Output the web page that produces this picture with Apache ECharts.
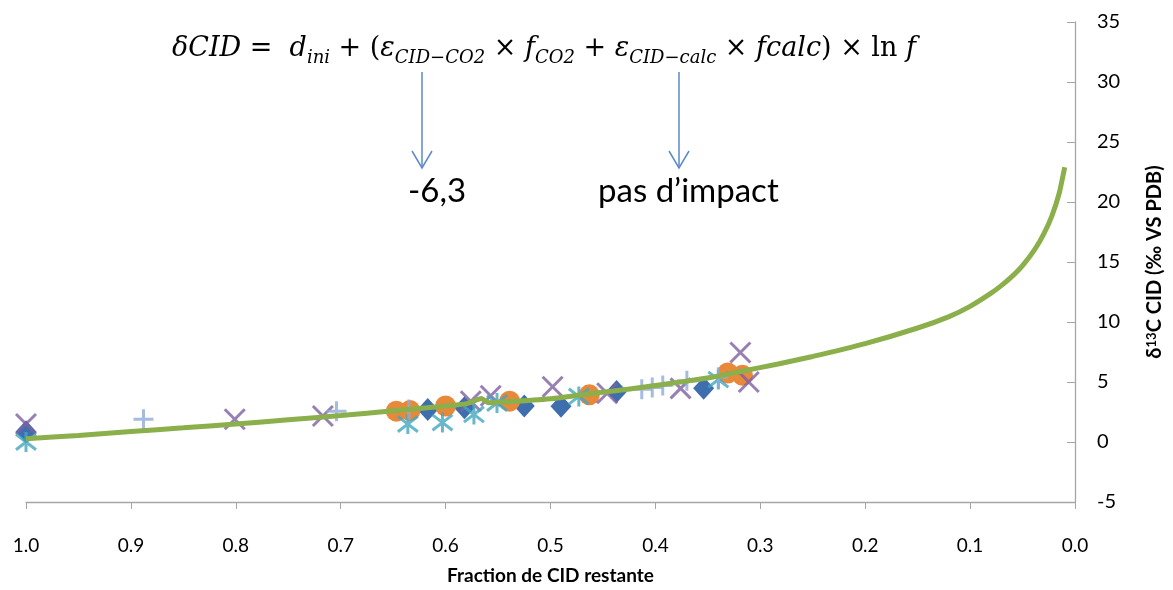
<!DOCTYPE html>
<html>
<head>
<meta charset="utf-8">
<script src="https://cdn.jsdelivr.net/npm/echarts@6/dist/echarts.min.js"></script>
<style>
html,body{margin:0;padding:0;background:#fff;}
#chart{width:1173px;height:590px;}
</style>
</head>
<body>
<div id="chart"></div>
<script>
// Model curve
const curveF = [1.0, 0.95, 0.9, 0.85, 0.8, 0.75, 0.7, 0.65, 0.6, 0.58, 0.572, 0.566, 0.559, 0.54, 0.5, 0.473, 0.44, 0.409, 0.38, 0.346, 0.32, 0.283, 0.25, 0.2, 0.15, 0.12, 0.1, 0.08, 0.07, 0.06, 0.05, 0.038, 0.03, 0.022, 0.015, 0.0098];
const curveD = [0.27, 0.55, 0.88, 1.18, 1.5, 1.85, 2.2, 2.6, 3.0, 3.2, 3.45, 3.62, 3.28, 3.35, 3.6, 3.9, 4.25, 4.6, 4.95, 5.4, 5.85, 6.5, 7.13, 8.2, 9.5, 10.45, 11.3, 12.4, 13.05, 13.8, 14.7, 16.1, 17.3, 18.85, 20.75, 22.9];
// Measured series
const diamondF = [1.0, 0.617, 0.582, 0.525, 0.49, 0.437, 0.354];
const diamondD = [0.85, 2.7, 2.85, 3.0, 2.98, 4.2, 4.47];
const circleF = [0.647, 0.634, 0.6, 0.539, 0.463, 0.331, 0.317];
const circleD = [2.57, 2.62, 3.0, 3.4, 3.93, 5.75, 5.56];
const crossF = [1.0, 0.801, 0.717, 0.576, 0.557, 0.498, 0.446, 0.376, 0.319, 0.311];
const crossD = [1.5, 1.9, 2.17, 3.4, 3.85, 4.6, 4.06, 4.47, 7.46, 5.0];
const starF = [1.0, 0.636, 0.603, 0.573, 0.551, 0.473, 0.34];
const starD = [0.0, 1.49, 1.62, 2.3, 3.25, 3.8, 5.2];
const plusF = [0.888, 0.704, 0.635, 0.413, 0.403, 0.393, 0.37, 0.34];
const plusD = [1.9, 2.57, 2.71, 4.4, 4.55, 4.7, 5.1, 5.4];
// Axis settings
const xMin = 0, xMax = 1, xStep = 0.1;
const yMin = -5, yMax = 35, yStep = 5;

const zip = (a, b) => a.map((v, i) => [v, b[i]]);

const chart = echarts.init(document.getElementById('chart'), null, {renderer: 'canvas'});
const axisColor = '#A6A6A6';
const labelFont = 'Lato, "Liberation Sans", sans-serif';
const mathFont = '"DejaVu Serif", "Liberation Serif", serif';

const arrowColor = '#5B8BC9';
function arrow(x, y1, y2) {
  return [
    {type: 'line', shape: {x1: x, y1: y1, x2: x, y2: y2}, style: {stroke: arrowColor, lineWidth: 1.5}},
    {type: 'polyline', shape: {points: [[x - 10, y2 - 17], [x, y2], [x + 10, y2 - 17]]}, style: {stroke: arrowColor, lineWidth: 1.5, fill: null}}
  ];
}

const option = {
  backgroundColor: '#fff',
  animation: false,
  grid: {left: 26, right: 96, top: 22, bottom: 77, containLabel: false},
  xAxis: {
    type: 'value', min: xMin, max: xMax, interval: xStep, inverse: true,
    axisLine: {onZero: false, lineStyle: {color: axisColor, width: 1.3}},
    axisTick: {show: true, length: 7, lineStyle: {color: axisColor}},
    splitLine: {show: false},
    axisLabel: {margin: 34, color: '#000', fontSize: 19, fontFamily: labelFont, formatter: v => v.toFixed(1)},
    name: 'Fraction de CID restante', nameLocation: 'middle', nameGap: 64,
    nameTextStyle: {color: '#000', fontSize: 19, fontWeight: 'bold', fontFamily: labelFont}
  },
  yAxis: {
    type: 'value', min: yMin, max: yMax, interval: yStep, position: 'right',
    axisLine: {show: true, onZero: false, lineStyle: {color: axisColor, width: 1.3}},
    axisTick: {show: true, inside: true, length: 8, lineStyle: {color: axisColor}},
    splitLine: {show: false},
    axisLabel: {margin: 22, color: '#000', fontSize: 20, fontFamily: labelFont},
    name: '{a|δ}{sup|13}{a|C CID (‰ VS PDB)}', nameLocation: 'middle', nameGap: 70, nameRotate: 90,
    nameTextStyle: {
      color: '#000', fontSize: 20, fontWeight: 'bold', fontFamily: labelFont,
      rich: {
        a: {fontSize: 20, fontWeight: 'bold', fontFamily: labelFont, color: '#000'},
        sup: {fontSize: 13, fontWeight: 'bold', fontFamily: labelFont, color: '#000', verticalAlign: 'top', padding: [0, 0, 6, 0]}
      }
    }
  },
  series: [
    {type: 'scatter', data: zip(diamondF, diamondD), symbol: 'diamond', symbolSize: [21, 23],
     itemStyle: {color: '#3F6EAE', opacity: 1}, z: 2},
    {type: 'scatter', data: zip(circleF, circleD), symbol: 'circle', symbolSize: 21,
     itemStyle: {color: '#E8893A', opacity: 1}, z: 3},
    {type: 'scatter', data: zip(crossF, crossD), symbol: 'path://M0 0L10 10M10 0L0 10', symbolSize: 20,
     itemStyle: {color: 'rgba(0,0,0,0)', borderColor: '#7E60A1', borderWidth: 3}, z: 4},
    {type: 'scatter', data: zip(starF, starD), symbol: 'path://M0 0L10 10M10 0L0 10M5 -1.5V11.5', symbolSize: 20,
     itemStyle: {color: 'rgba(0,0,0,0)', borderColor: '#42A6BF', borderWidth: 3}, z: 5},
    {type: 'scatter', data: zip(plusF, plusD), symbol: 'path://M5 0V10M0 5H10', symbolSize: 20,
     itemStyle: {color: 'rgba(0,0,0,0)', borderColor: '#8EABDA', borderWidth: 3}, z: 6},
    {type: 'line', data: zip(curveF, curveD), showSymbol: false, smooth: 0.15,
     lineStyle: {color: '#8BAF4A', width: 5}, z: 10}
  ],
  graphic: [
    {
      type: 'text', left: 172, top: 35, z: 100,
      style: {
        text: '{m|δCID}{u| =  }{m|d}{s|ini}{u| + (}{m|ε}{s|CID−CO2}{u| × }{m|f}{s|CO2}{u| + }{m|ε}{s|CID−calc}{u| × }{m|fcalc}{u|) × ln }{m|f}',
        fill: '#000',
        rich: {
          m: {fontSize: 27, fontStyle: 'italic', fontFamily: mathFont, fill: '#000', verticalAlign: 'top'},
          u: {fontSize: 27, fontFamily: mathFont, fill: '#000', verticalAlign: 'top'},
          s: {fontSize: 18, fontStyle: 'italic', fontFamily: mathFont, fill: '#000', verticalAlign: 'top', padding: [14, 0, 0, 0]}
        }
      }
    },
    ...arrow(422, 72, 168),
    ...arrow(679, 72, 168),
    {type: 'text', left: 408, top: 175, z: 100, style: {text: '-6,3', fontSize: 33, fontFamily: labelFont, fill: '#000'}},
    {type: 'text', left: 598, top: 175, z: 100, style: {text: 'pas d’impact', fontSize: 33, fontFamily: labelFont, fill: '#000'}}
  ]
};
chart.setOption(option);
</script>
</body>
</html>
